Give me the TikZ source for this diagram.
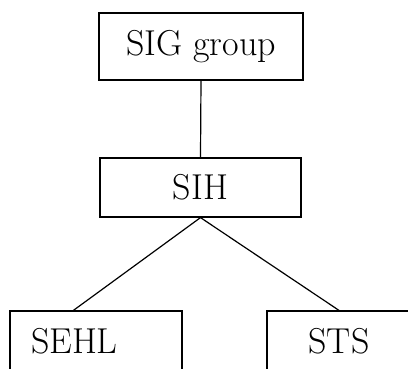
\documentclass[tikz,border=0pt]{standalone}
\usepackage{fontspec}
\usetikzlibrary{positioning}
\tikzset{unit/.style={draw,rectangle,line width=1.2pt,font=\fontsize{36}{42}\selectfont}}
\begin{document}
\begin{tikzpicture}[x=1pt,y=-1pt,line width=1.2pt]
\useasboundingbox (0,0) rectangle (408,369);
\clip (0,0) rectangle (408,369);
\node [unit,minimum width=204pt,minimum height=67pt] (sig) at (201,46.5) {SIG group};
\node [unit,minimum width=201pt,minimum height=59pt] (sih) at (200.5,187.5) {SIH};
\node [unit,minimum height=60pt,text width=130pt,inner xsep=21pt,align=left] (sehl) at (96,341) {SEHL};
\node [unit,minimum width=144pt,minimum height=60pt] (sts) at (339,341) {STS};
\draw (sig.south) -- (sih.north);
\draw (sih.south) -- ([xshift=64pt]sehl.north west);
\draw (sih.south) -- (sts.north);
\end{tikzpicture}
\end{document}
